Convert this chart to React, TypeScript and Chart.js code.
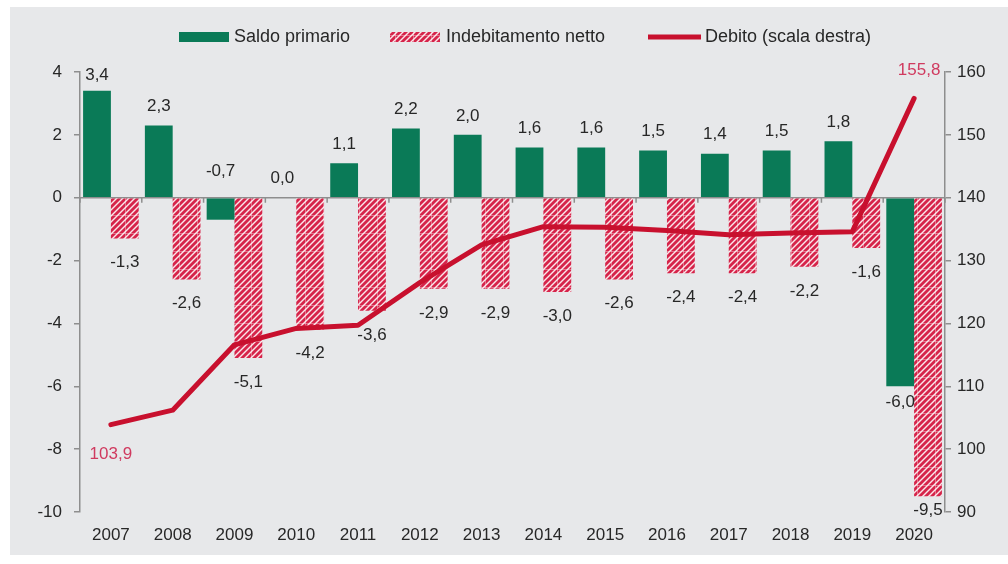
import React, { useEffect, useRef } from 'react';
import { Chart, registerables } from 'chart.js';

Chart.register(...registerables);

const years = ['2007', '2008', '2009', '2010', '2011', '2012', '2013', '2014', '2015', '2016', '2017', '2018', '2019', '2020'];
const saldoPrimario = [3.4, 2.3, -0.7, 0.0, 1.1, 2.2, 2.0, 1.6, 1.6, 1.5, 1.4, 1.5, 1.8, -6.0];
const indebitamentoNetto = [-1.3, -2.6, -5.1, -4.2, -3.6, -2.9, -2.9, -3.0, -2.6, -2.4, -2.4, -2.2, -1.6, -9.5];
const debito = [103.9, 106.2, 116.6, 119.2, 119.7, 126.5, 132.5, 135.4, 135.3, 134.8, 134.1, 134.4, 134.6, 155.8];
const legendLabels = ['Saldo primario', 'Indebitamento netto', 'Debito (scala destra)'];

const FONT = "'Liberation Sans', Arial, sans-serif";
const GREEN = '#0a7a57';
const RED_LINE = '#c8102e';
const RED_LABEL = '#d03a5f';
const AXIS = '#8e8e8e';
const TEXT = '#272727';

const fmt = (v: number) => v.toFixed(1).replace('.', ',');

function makeHatch(): CanvasPattern | string {
  const c = document.createElement('canvas');
  const s = 18;
  c.width = s;
  c.height = s;
  const g = c.getContext('2d');
  if (!g) return '#e88';
  g.fillStyle = '#fbe6ea';
  g.fillRect(0, 0, s, s);
  g.strokeStyle = '#d6244a';
  g.lineWidth = 2.8;
  for (let k = -s; k <= 2 * s; k += 6) {
    g.beginPath();
    g.moveTo(k - 2, s + 2);
    g.lineTo(k + s + 2, -2);
    g.stroke();
  }
  g.fillStyle = 'rgba(255,255,255,0.35)';
  g.fillRect(0, s - 1, s, 1);
  g.fillRect(s - 1, 0, 1, s);
  const p = g.createPattern(c, 'repeat');
  return p || '#e88';
}

const backgroundPlugin = {
  id: 'panelBg',
  beforeDraw(chart: any) {
    const ctx = chart.ctx;
    ctx.save();
    ctx.fillStyle = '#e7e8ea';
    ctx.fillRect(10, 7, 998, 548);
    ctx.restore();
  },
};

const zeroLinePlugin = {
  id: 'zeroLine',
  beforeDatasetsDraw(chart: any) {
    const ctx = chart.ctx;
    const y = chart.scales.y.getPixelForValue(0);
    const { left, right } = chart.chartArea;
    ctx.save();
    ctx.strokeStyle = AXIS;
    ctx.lineWidth = 1.5;
    ctx.beginPath();
    ctx.moveTo(left, y);
    ctx.lineTo(right, y);
    const n = years.length;
    for (let i = 0; i <= n; i++) {
      const x = left + (i * (right - left)) / n;
      ctx.moveTo(x, y);
      ctx.lineTo(x, y + 5);
    }
    ctx.stroke();
    ctx.restore();
  },
};

const labelsPlugin = {
  id: 'valueLabels',
  afterDatasetsDraw(chart: any) {
    const ctx = chart.ctx;
    const yScale = chart.scales.y;
    const zeroY = yScale.getPixelForValue(0);
    ctx.save();
    ctx.font = `17px ${FONT}`;
    ctx.textAlign = 'center';
    ctx.textBaseline = 'middle';
    ctx.fillStyle = TEXT;
    const m0 = chart.getDatasetMeta(0);
    m0.data.forEach((el: any, i: number) => {
      const v = saldoPrimario[i];
      let y: number;
      if (v >= 0) y = Math.max(el.y - 19, 75);
      else if (v > -1) y = zeroY - 26;
      else y = el.y + 16;
      ctx.fillText(fmt(v), el.x, y);
    });
    const m1 = chart.getDatasetMeta(1);
    m1.data.forEach((el: any, i: number) => {
      const v = indebitamentoNetto[i];
      const y = Math.min(el.y + 24, 510);
      ctx.fillText(fmt(v), el.x, y);
    });
    const m2 = chart.getDatasetMeta(2);
    ctx.fillStyle = RED_LABEL;
    const first = m2.data[0];
    const last = m2.data[m2.data.length - 1];
    ctx.fillText(fmt(debito[0]), first.x, first.y + 30);
    ctx.fillText(fmt(debito[debito.length - 1]), last.x + 5, last.y - 28);
    ctx.restore();
  },
};

const App: React.FC = () => {
  const ref = useRef<HTMLCanvasElement | null>(null);

  useEffect(() => {
    if (!ref.current) return;
    const hatch = makeHatch();

    const legendPlugin = {
      id: 'customLegend',
      afterDraw(chart: any) {
        const ctx = chart.ctx;
        const cy = 37;
        ctx.save();
        ctx.font = `18px ${FONT}`;
        ctx.textBaseline = 'middle';
        ctx.textAlign = 'left';
        ctx.fillStyle = GREEN;
        ctx.fillRect(179, cy - 5, 50, 10);
        ctx.fillStyle = hatch as any;
        ctx.fillRect(390, cy - 5, 50, 10);
        ctx.strokeStyle = RED_LINE;
        ctx.lineWidth = 5;
        ctx.beginPath();
        ctx.moveTo(648, cy);
        ctx.lineTo(701, cy);
        ctx.stroke();
        ctx.fillStyle = TEXT;
        ctx.fillText(legendLabels[0], 234, cy);
        ctx.fillText(legendLabels[1], 446, cy);
        ctx.fillText(legendLabels[2], 705, cy);
        ctx.restore();
      },
    };

    const tickFont = { family: FONT, size: 17 };

    const chart = new Chart(ref.current, {
      type: 'bar',
      data: {
        labels: years,
        datasets: [
          {
            type: 'bar',
            label: legendLabels[0],
            data: saldoPrimario,
            backgroundColor: GREEN,
            yAxisID: 'y',
            order: 2,
            categoryPercentage: 0.9,
            barPercentage: 1,
          },
          {
            type: 'bar',
            label: legendLabels[1],
            data: indebitamentoNetto,
            backgroundColor: hatch as any,
            yAxisID: 'y',
            order: 2,
            categoryPercentage: 0.9,
            barPercentage: 1,
          },
          {
            type: 'line',
            label: legendLabels[2],
            data: debito,
            borderColor: RED_LINE,
            backgroundColor: RED_LINE,
            borderWidth: 5,
            pointRadius: 0,
            tension: 0,
            borderJoinStyle: 'round',
            borderCapStyle: 'round',
            yAxisID: 'y1',
            order: 1,
          } as any,
        ],
      },
      options: {
        responsive: false,
        animation: false,
        devicePixelRatio: 1,
        layout: { padding: { top: 72, left: 0, right: 0, bottom: 0 } },
        plugins: { legend: { display: false }, tooltip: { enabled: false } },
        scales: {
          x: {
            grid: { display: false, drawTicks: false },
            border: { display: false },
            ticks: { color: TEXT, font: tickFont, padding: 13, maxRotation: 0, autoSkip: false },
            afterFit: (s: any) => {
              s.height = 52;
            },
          },
          y: {
            position: 'left',
            min: -10,
            max: 4,
            ticks: { stepSize: 2, color: TEXT, font: tickFont, padding: 12 },
            grid: { drawOnChartArea: false, tickLength: 6, color: AXIS, lineWidth: 1.5 },
            border: { color: AXIS, width: 1.5 },
            afterFit: (s: any) => {
              s.width = 80;
            },
          },
          y1: {
            position: 'right',
            min: 90,
            max: 160,
            ticks: { stepSize: 10, color: TEXT, font: tickFont, padding: 6 },
            grid: { drawOnChartArea: false, tickLength: 6, color: AXIS, lineWidth: 1.5 },
            border: { color: AXIS, width: 1.5 },
            afterFit: (s: any) => {
              s.width = 63;
            },
          },
        },
      } as any,
      plugins: [backgroundPlugin, zeroLinePlugin, labelsPlugin, legendPlugin],
    });

    return () => {
      chart.destroy();
    };
  }, []);

  return (
    <canvas
      ref={ref}
      width={1008}
      height={564}
      style={{ position: 'absolute', left: 0, top: 0, width: 1008, height: 564 }}
    />
  );
};

export default App;
